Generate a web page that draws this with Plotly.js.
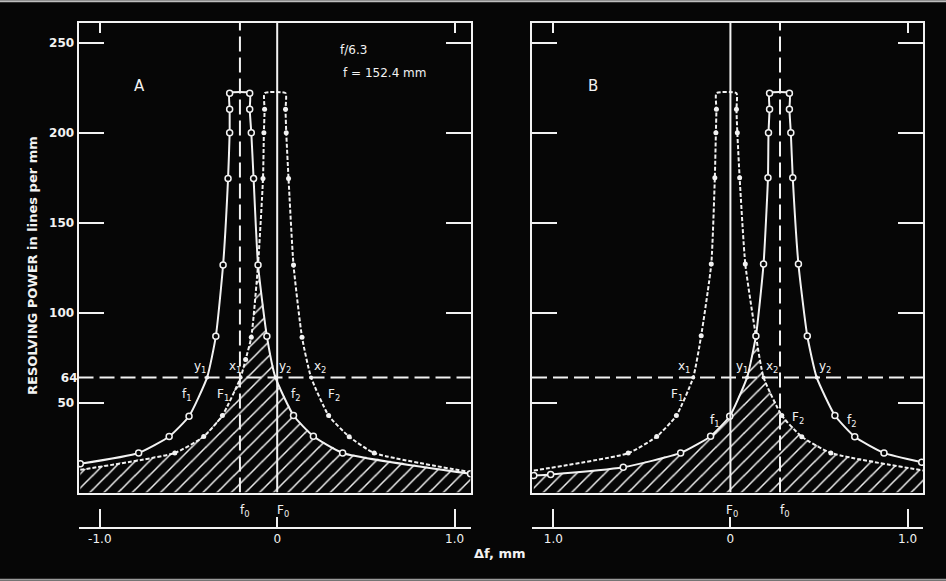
<!DOCTYPE html>
<html>
<head>
<meta charset="utf-8">
<script src="https://cdn.plot.ly/plotly-3.0.1.min.js"></script>
<style>html,body{margin:0;padding:0;background:#060606;}</style>
</head>
<body>
<div id="chart" style="width:946px;height:581px;"></div>
<script>
// ---------- DATA ----------
// Panel A: solid curve (f1 / f2, open circles), centred on f0
const solidA_x = [-1.11, -0.781, -0.609, -0.497, -0.346, -0.305, -0.277, -0.268, -0.268, -0.268, -0.155, -0.155, -0.146, -0.133, -0.108, -0.058, 0.092, 0.204, 0.369, 1.09];
const solidA_y = [16, 22, 31.1, 42.4, 86.8, 126.5, 174.5, 200, 213, 222, 222, 213, 200, 174.5, 126.5, 86.8, 42.8, 31.3, 22, 10.4];
// Panel A: dotted curve (F1 / F2, filled dots), centred on F0
const dotA_x = [-1.11, -0.577, -0.414, -0.309, -0.178, -0.146, -0.108, -0.080, -0.075, -0.071, -0.071, 0.047, 0.047, 0.051, 0.064, 0.092, 0.14, 0.29, 0.406, 0.547, 1.09];
const dotA_y = [12.6, 22, 31.1, 42.8, 73.9, 86.3, 126.5, 174.5, 200, 213, 222, 222, 213, 200, 174.5, 126.5, 86.3, 42.8, 31, 22, 11.3];
// Panel A: crossings with the 64 lines/mm level
const crossA_solid_x = [-0.395, -0.01];   // y1, y2
const crossA_dot_x = [-0.206, 0.191];     // x1, x2
// Panel B: solid curve (f1 / f2)
const solidB_x = [-1.11, -1.015, -0.605, -0.281, -0.112, -0.004, 0.144, 0.187, 0.212, 0.215, 0.221, 0.221, 0.333, 0.333, 0.341, 0.352, 0.384, 0.434, 0.59, 0.702, 0.867, 1.08];
const solidB_y = [9.4, 10, 14, 22, 31.3, 42.4, 87, 127, 175, 200, 213, 222, 222, 213, 200, 175, 127, 87, 42.8, 31, 22, 16.8];
// Panel B: dotted curve (F1 / F2)
const dotB_x = [-1.11, -0.577, -0.416, -0.305, -0.165, -0.108, -0.088, -0.082, -0.079, -0.079, 0.034, 0.034, 0.039, 0.052, 0.084, 0.144, 0.29, 0.403, 0.567, 1.09];
const dotB_y = [12.2, 21.9, 31.1, 42.8, 87.2, 127, 175, 200, 213, 222, 222, 213, 200, 175, 127, 87, 42.8, 31, 22, 12.2];
const crossB_solid_x = [0.094, 0.487];    // y1, y2
const crossB_dot_x = [-0.21, 0.187];      // x1, x2
// Reference levels / focal positions
const criterionLevel = 64;
const focusA = {f0: -0.21, F0: 0};
const focusB = {f0: 0.28, F0: 0};
// Tick labels
const yTickVals = [50, 100, 150, 200, 250];
const xTickValsA = [-1, 0, 1];
const xTickTextA = ['-1.0', '0', '1.0'];
const xTickTextB = ['1.0', '0', '1.0'];

// ---------- helpers ----------
const WHITE = '#f2f2f2';
const BG = '#060606';
const FONT = 'DejaVu Sans';

function interp(xs, ys, x) {
  if (x <= xs[0]) return ys[0];
  if (x >= xs[xs.length - 1]) return ys[ys.length - 1];
  let best = null;
  for (let i = 0; i < xs.length - 1; i++) {
    if (xs[i + 1] > xs[i] && x >= xs[i] && x <= xs[i + 1]) {
      const t = (x - xs[i]) / (xs[i + 1] - xs[i]);
      const v = ys[i] + t * (ys[i + 1] - ys[i]);
      best = best === null ? v : Math.max(best, v);
    }
  }
  return best === null ? 0 : best;
}
function minEnvelope(a, b, lo, hi) {
  const gx = [];
  const n = 1100;
  for (let i = 0; i <= n; i++) gx.push(lo + (hi - lo) * i / n);
  a.x.concat(b.x).forEach(v => gx.push(v));
  gx.sort((p, q) => p - q);
  return {x: gx, y: gx.map(x => Math.min(interp(a.x, a.y, x), interp(b.x, b.y, x)))};
}
function orderedLine(xs, ys, cx, level) {
  // insert crossing points in the correct place along the polyline
  const pts = xs.map((x, i) => ({x: x, y: ys[i], k: i}));
  cx.forEach(x => {
    for (let i = 0; i < xs.length - 1; i++) {
      const y0 = ys[i], y1 = ys[i + 1];
      if ((y0 - level) * (y1 - level) < 0 && x >= Math.min(xs[i], xs[i+1]) - 0.03 && x <= Math.max(xs[i], xs[i+1]) + 0.03) {
        pts.push({x: x, y: level, k: i + 0.5});
        break;
      }
    }
  });
  pts.sort((a, b) => a.k - b.k);
  return {x: pts.map(p => p.x), y: pts.map(p => p.y)};
}

function panelTraces(sx, sy, dx, dy, csx, cdx, xa, ya) {
  const sLine = orderedLine(sx, sy, csx, criterionLevel);
  const dLine = orderedLine(dx, dy, cdx, criterionLevel);
  const env = minEnvelope(sLine, dLine, -1.11, 1.09);
  const dMarkX = [], dMarkY = [];
  dx.forEach((x, i) => { if (dy[i] < 220 && i > 0 && i < dx.length - 1) { dMarkX.push(x); dMarkY.push(dy[i]); } });
  return [
    {x: env.x, y: env.y, xaxis: xa, yaxis: ya, type: 'scatter', mode: 'lines',
     line: {width: 0, color: 'rgba(0,0,0,0)'}, fill: 'tozeroy', fillcolor: 'rgba(0,0,0,0)',
     fillpattern: {shape: '/', fgcolor: WHITE, bgcolor: 'rgba(0,0,0,0)', size: 10, solidity: 0.15},
     hoverinfo: 'skip'},
    {x: dLine.x, y: dLine.y, xaxis: xa, yaxis: ya, type: 'scatter', mode: 'lines',
     line: {color: WHITE, width: 2, dash: '4px,2px', shape: 'spline', smoothing: 0.5}},
    {x: dMarkX, y: dMarkY, xaxis: xa, yaxis: ya, type: 'scatter', mode: 'markers',
     marker: {symbol: 'circle', size: 5, color: WHITE}},
    {x: sLine.x, y: sLine.y, xaxis: xa, yaxis: ya, type: 'scatter', mode: 'lines',
     line: {color: WHITE, width: 2, shape: 'spline', smoothing: 0.5}},
    {x: sx, y: sy, xaxis: xa, yaxis: ya, type: 'scatter', mode: 'markers',
     marker: {symbol: 'circle', size: 6, color: BG, line: {color: WHITE, width: 1.5}}},
    {x: csx.concat(cdx), y: csx.concat(cdx).map(() => criterionLevel), xaxis: xa, yaxis: ya,
     type: 'scatter', mode: 'markers', marker: {symbol: 'circle', size: 4, color: WHITE}}
  ];
}

const traces = []
  .concat(panelTraces(solidA_x, solidA_y, dotA_x, dotA_y, crossA_solid_x, crossA_dot_x, 'x', 'y'))
  .concat(panelTraces(solidB_x, solidB_y, dotB_x, dotB_y, crossB_solid_x, crossB_dot_x, 'x2', 'y2'));
// empty traces to activate overlay axes
[['x3','y'],['x5','y'],['x','y3'],['x4','y2'],['x6','y2']].forEach(p => traces.push({x: [null], y: [null], xaxis: p[0], yaxis: p[1], type: 'scatter', mode: 'markers', hoverinfo: 'skip'}));

const XR = [-1.12, 1.09];
const YR = [0, 261];
const domA = [0.0830, 0.4974];
const domB = [0.5624, 0.9762];
const domY = [0.1523, 0.9604];
const axisPos = 0.0912;
const tickFont = {family: FONT, size: 12, color: WHITE, weight: 'bold'};

function topX(dom, anchor) {
  return {domain: dom, range: XR, anchor: anchor, side: 'top', showline: true, mirror: true,
    linecolor: WHITE, linewidth: 2, ticks: 'inside', tickvals: [-1, 1], ticklen: 10, tickwidth: 2,
    tickcolor: WHITE, showticklabels: false, showgrid: false, zeroline: false, fixedrange: true};
}
function boxY(anchor, labels) {
  return {domain: domY, range: YR, anchor: anchor, showline: true, mirror: 'ticks', linecolor: WHITE,
    linewidth: 2, ticks: 'inside', ticklen: 25, tickwidth: 2, tickcolor: WHITE, tickvals: yTickVals,
    showticklabels: labels, tickfont: tickFont, showgrid: false, zeroline: false, fixedrange: true};
}
function bottomX(over, text) {
  return {overlaying: over, anchor: 'free', position: axisPos, side: 'bottom', range: XR,
    tickvals: xTickValsA, ticktext: text, ticks: 'inside', ticklen: 10, tickwidth: 2, tickcolor: WHITE,
    showline: true, linecolor: WHITE, linewidth: 2, tickfont: {family: FONT, size: 12, color: WHITE},
    showgrid: false, zeroline: false, fixedrange: true};
}
function longTicks(over) {
  return {overlaying: over, anchor: 'free', position: axisPos, side: 'bottom', range: XR,
    tickvals: [-1, 1], ticks: 'inside', ticklen: 19, tickwidth: 2, tickcolor: WHITE,
    showticklabels: false, showline: false, showgrid: false, zeroline: false, fixedrange: true};
}

const lineDash = '15px,6px';
const shapes = [
  {type: 'line', xref: 'x', yref: 'y', x0: focusA.F0, x1: focusA.F0, y0: YR[0], y1: YR[1], line: {color: WHITE, width: 2}},
  {type: 'line', xref: 'x', yref: 'y', x0: focusA.f0, x1: focusA.f0, y0: YR[0], y1: YR[1], line: {color: WHITE, width: 2, dash: lineDash}},
  {type: 'line', xref: 'x domain', yref: 'y', x0: 0, x1: 1, y0: criterionLevel, y1: criterionLevel, line: {color: WHITE, width: 2, dash: lineDash}},
  {type: 'line', xref: 'x2', yref: 'y2', x0: focusB.F0, x1: focusB.F0, y0: YR[0], y1: YR[1], line: {color: WHITE, width: 2}},
  {type: 'line', xref: 'x2', yref: 'y2', x0: focusB.f0, x1: focusB.f0, y0: YR[0], y1: YR[1], line: {color: WHITE, width: 2, dash: lineDash}},
  {type: 'line', xref: 'x2 domain', yref: 'y2', x0: 0, x1: 1, y0: criterionLevel, y1: criterionLevel, line: {color: WHITE, width: 2, dash: lineDash}},
  // scanned page edges
  {type: 'line', xref: 'paper', yref: 'paper', x0: 0, x1: 1, y0: 0.998, y1: 0.998, line: {color: '#bdbdbd', width: 2}},
  {type: 'line', xref: 'paper', yref: 'paper', x0: 0, x1: 1, y0: 0.002, y1: 0.002, line: {color: '#9a9a9a', width: 2}}
];

const lf = {family: FONT, size: 12, color: WHITE};
function lab(text, x, y, xr, yr, extra) {
  return Object.assign({text: text, x: x, y: y, xref: xr, yref: yr, showarrow: false, font: lf,
    xanchor: 'center', yanchor: 'middle'}, extra || {});
}
const labelY = 1 - 511 / 581;
const annotations = [
  lab('A', -0.775, 226, 'x', 'y', {font: {family: FONT, size: 15, color: WHITE}}),
  lab('B', -0.777, 226, 'x2', 'y2', {font: {family: FONT, size: 15, color: WHITE}}),
  lab('f/6.3', 0.345, 246, 'x', 'y', {xanchor: 'left'}),
  lab('f = 152.4 mm', 0.36, 233, 'x', 'y', {xanchor: 'left'}),
  lab('y<sub>1</sub>', -0.433, 70, 'x', 'y'),
  lab('x<sub>1</sub>', -0.236, 70, 'x', 'y'),
  lab('y<sub>2</sub>', 0.045, 70, 'x', 'y'),
  lab('x<sub>2</sub>', 0.24, 70, 'x', 'y'),
  lab('f<sub>1</sub>', -0.511, 54, 'x', 'y'),
  lab('F<sub>1</sub>', -0.303, 54, 'x', 'y'),
  lab('f<sub>2</sub>', 0.107, 54, 'x', 'y'),
  lab('F<sub>2</sub>', 0.32, 54, 'x', 'y'),
  lab('x<sub>1</sub>', -0.264, 70, 'x2', 'y2'),
  lab('y<sub>1</sub>', 0.066, 70, 'x2', 'y2'),
  lab('x<sub>2</sub>', 0.234, 70, 'x2', 'y2'),
  lab('y<sub>2</sub>', 0.534, 70, 'x2', 'y2'),
  lab('F<sub>1</sub>', -0.303, 54, 'x2', 'y2'),
  lab('f<sub>1</sub>', -0.088, 39.5, 'x2', 'y2'),
  lab('F<sub>2</sub>', 0.384, 41.5, 'x2', 'y2'),
  lab('f<sub>2</sub>', 0.684, 39.5, 'x2', 'y2'),
  lab('f<sub>0</sub>', focusA.f0 + 0.03, labelY, 'x', 'paper'),
  lab('F<sub>0</sub>', focusA.F0 + 0.03, labelY, 'x', 'paper'),
  lab('F<sub>0</sub>', focusB.F0 + 0.01, labelY, 'x2', 'paper'),
  lab('f<sub>0</sub>', focusB.f0 + 0.03, labelY, 'x2', 'paper'),
  lab('Δf, mm', 0.5285, 1 - 553 / 581, 'paper', 'paper', {font: {family: FONT, size: 13, color: WHITE, weight: 'bold'}}),
  lab('RESOLVING POWER in lines per mm', 33 / 946, 1 - 266 / 581, 'paper', 'paper',
      {textangle: -90, font: {family: FONT, size: 13, color: WHITE, weight: 'bold'}})
];

const layout = {
  width: 946, height: 581, margin: {l: 0, r: 0, t: 0, b: 0},
  paper_bgcolor: BG, plot_bgcolor: BG, showlegend: false,
  xaxis: topX(domA, 'y'), yaxis: boxY('x', true),
  xaxis2: topX(domB, 'y2'), yaxis2: boxY('x2', false),
  xaxis3: bottomX('x', xTickTextA), xaxis4: bottomX('x2', xTickTextB),
  xaxis5: longTicks('x'), xaxis6: longTicks('x2'),
  yaxis3: {overlaying: 'y', anchor: 'x', side: 'left', range: YR, tickvals: [criterionLevel], ticktext: ['64'],
    ticks: '', showline: false, showgrid: false, zeroline: false, tickfont: tickFont, fixedrange: true},
  shapes: shapes, annotations: annotations
};
Plotly.newPlot('chart', traces, layout, {staticPlot: true});
</script>
</body>
</html>
